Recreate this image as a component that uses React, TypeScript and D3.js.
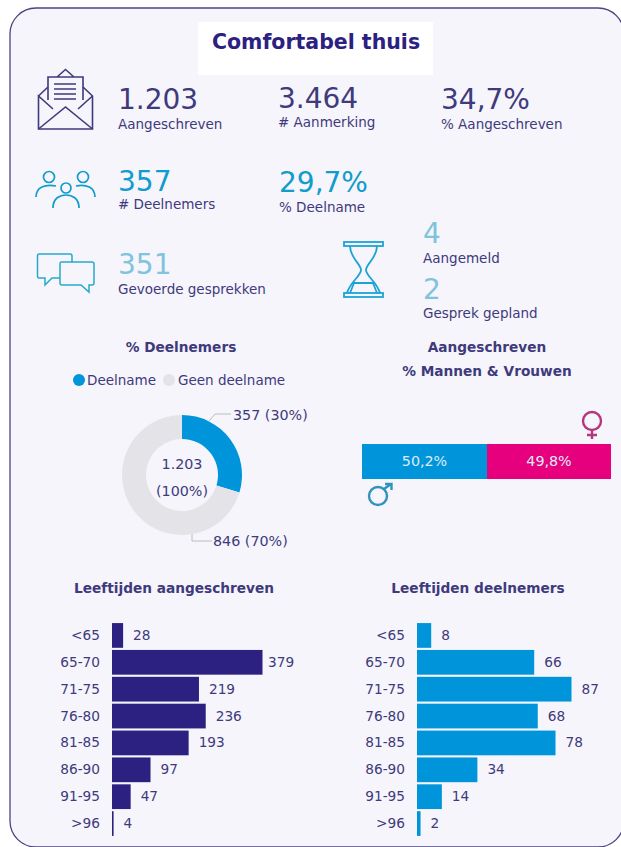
import * as d3 from "d3";

// values
const ageGroups = ["<65", "65-70", "71-75", "76-80", "81-85", "86-90", "91-95", ">96"];
const agesWritten = [28, 379, 219, 236, 193, 97, 47, 4];
const agesJoined = [8, 66, 87, 68, 78, 34, 14, 2];
const donutNames = ["Deelname", "Geen deelname"];
const donutValues = [357, 846];
const genderNames = ["50,2%", "49,8%"];
const genderValues = [50.2, 49.8];

const NAVY = "#2c2181";
const NAVY_TEXT = "#3f3a7c";
const BLUE = "#0095da";
const CYAN = "#119ccb";
const LIGHT = "#7fc3dc";
const GREY = "#e4e4e8";
const PINK = "#e6007e";
const FONT = "'DejaVu Sans', Verdana, sans-serif";

const y = d3.scaleBand().domain(ageGroups).range([622, 837]).paddingInner(0.08).paddingOuter(0.04);

function AgeBars(props: {values: number[]; x0: number; perUnit: number; labelEnd: number; maxLabel: number; color: string}) {
    const x = d3.scaleLinear().domain([0, 1]).range([props.x0, props.x0 + props.perUnit]);
    return (
        <g>
            {ageGroups.map((name, i) => (
                <g key={name}>
                    <text x={props.labelEnd} y={y(name)! + y.bandwidth() / 2 + 4.5} textAnchor="end" fontSize={13.7} fill={NAVY_TEXT}>{name}</text>
                    <rect x={x(0)} y={y(name)} width={x(props.values[i]) - x(0)} height={y.bandwidth()} fill={props.color} />
                    <text x={Math.min(x(props.values[i]) + 10, props.maxLabel)} y={y(name)! + y.bandwidth() / 2 + 4.5} fontSize={13.7} fill={NAVY_TEXT}>{props.values[i]}</text>
                </g>
            ))}
        </g>
    );
}

function Stat(props: {x: number; y: number; value: string; label: string; color: string; labelY: number}) {
    return (
        <g>
            <text x={props.x} y={props.y} fontSize={28} fill={props.color}>{props.value}</text>
            <text x={props.x} y={props.labelY} fontSize={13.5} fill={NAVY_TEXT}>{props.label}</text>
        </g>
    );
}

function Title(props: {x: number; y: number; text: string}) {
    return <text x={props.x} y={props.y} textAnchor="middle" fontSize={13.7} fontWeight="bold" fill={NAVY_TEXT}>{props.text}</text>;
}

export default function App() {
    const pie = d3.pie<number>().sort(null)(donutValues);
    const arc = d3.arc<d3.PieArcDatum<number>>().innerRadius(36).outerRadius(60);
    const gx = d3.scaleLinear().domain([0, 100]).range([362, 611]);
    let running = 0;

    return (
        <svg width={621} height={847} style={{position: "absolute", left: 0, top: 0, fontFamily: FONT}}>
            <rect x={0} y={0} width={621} height={847} fill="#ffffff" />
            <rect x={10} y={8} width={614} height={839} rx={26} fill="#f5f5fb" stroke="#4a4580" strokeWidth={1.3} />
            <rect x={198} y={22} width={235} height={53} fill="#ffffff" />
            <text x={316} y={49} textAnchor="middle" fontSize={20.5} fontWeight="bold" fill={NAVY}>Comfortabel thuis</text>

            {/* envelope */}
            <g fill="none" stroke={NAVY_TEXT} strokeWidth={1.6}>
                <path d="M38.5 96 L48 87 M83 87 L92.5 96 L92.5 129 L38.5 129 L38.5 96 L53 109 M92.5 96 L78 109" />
                <path d="M38.5 129 L65.5 107 L92.5 129" />
                <path d="M48 100 L48 77 L83 77 L83 100 M57 77 L65.5 69.5 L74 77" />
                <path d="M54 84 H76 M54 89 H76 M54 94 H76 M54 99 H76" />
            </g>
            {/* people */}
            <g fill="none" stroke={CYAN} strokeWidth={1.7}>
                <circle cx={49} cy={177} r={5.5} />
                <circle cx={83} cy={177} r={5.5} />
                <circle cx={66} cy={188} r={5} />
                <path d="M36 197 C36 187 45 184 56 186" />
                <path d="M95 197 C95 187 86 184 76 186" />
                <path d="M53 208 C53 198 60 195 66 195 C72 195 79 198 79 208" />
            </g>
            {/* chat */}
            <g fill="none" stroke="#28a9cc" strokeWidth={1.5}>
                <path d="M60 278 H52 L45 285 V278 H39 Q37.5 278 37.5 276 V256 Q37.5 254 39 254 H70 Q72 254 72 256 V262" />
                <path d="M61 262 H92 Q94 262 94 264 V283 Q94 285 92 285 H89 V292 L81 285 H62 Q60 285 60 283 V264 Q60 262 61 262 Z" />
            </g>
            {/* hourglass */}
            <g fill="none" stroke="#1ba3d6" strokeWidth={1.8}>
                <rect x={344} y={242} width={39} height={4} />
                <rect x={344} y={293} width={39} height={4} />
                <path d="M350 246 C350 258 361 264 361 270 C361 276 350 282 347 293 M377 246 C377 258 366 264 366 270 C366 276 377 282 380 293" />
                <path d="M352 283 H375 M350 293 L354 283 M377 293 L373 283" />
            </g>

            <Stat x={118} y={109} labelY={129} value="1.203" label="Aangeschreven" color={NAVY_TEXT} />
            <Stat x={278} y={108} labelY={127} value="3.464" label="# Aanmerking" color={NAVY_TEXT} />
            <Stat x={441} y={109} labelY={129} value="34,7%" label="% Aangeschreven" color={NAVY_TEXT} />
            <Stat x={118} y={191} labelY={209} value="357" label="# Deelnemers" color={CYAN} />
            <Stat x={279} y={192} labelY={212} value="29,7%" label="% Deelname" color={CYAN} />
            <Stat x={118} y={274} labelY={294} value="351" label="Gevoerde gesprekken" color={LIGHT} />
            <Stat x={423} y={243} labelY={263} value="4" label="Aangemeld" color={LIGHT} />
            <Stat x={423} y={299} labelY={318} value="2" label="Gesprek gepland" color={LIGHT} />

            {/* donut */}
            <Title x={181} y={352} text="% Deelnemers" />
            <circle cx={79} cy={380} r={6} fill={BLUE} />
            <text x={87} y={385} fontSize={13.5} fill={NAVY_TEXT}>{donutNames[0]}</text>
            <circle cx={169} cy={380} r={6} fill={GREY} />
            <text x={178} y={385} fontSize={13.5} fill={NAVY_TEXT}>{donutNames[1]}</text>
            <g transform="translate(182,475)">
                {pie.map((d, i) => <path key={i} d={arc(d)!} fill={i === 0 ? BLUE : GREY} />)}
                <text y={-6} textAnchor="middle" fontSize={14.3} fill={NAVY_TEXT}>1.203</text>
                <text y={21} textAnchor="middle" fontSize={14.3} fill={NAVY_TEXT}>(100%)</text>
            </g>
            <path d="M209 421 L215 414 H231" fill="none" stroke="#bbbbc4" />
            <path d="M192 534 V541 H212" fill="none" stroke="#bbbbc4" />
            <text x={233} y={420} fontSize={14.3} fill={NAVY_TEXT}>{donutValues[0]} (30%)</text>
            <text x={213} y={546} fontSize={14.3} fill={NAVY_TEXT}>{donutValues[1]} (70%)</text>

            {/* men and women */}
            <Title x={487} y={352} text="Aangeschreven" />
            <Title x={487} y={376} text="% Mannen & Vrouwen" />
            {genderValues.map((v, i) => {
                const start = running;
                running += v;
                return (
                    <g key={i}>
                        <rect x={gx(start)} y={444} width={gx(start + v) - gx(start)} height={35} fill={i === 0 ? BLUE : PINK} />
                        <text x={(gx(start) + gx(start + v)) / 2} y={466} textAnchor="middle" fontSize={14.3} fill="#dcebf7">{genderNames[i]}</text>
                    </g>
                );
            })}
            <g fill="none" stroke="#b5367f" strokeWidth={2.4}>
                <circle cx={592} cy={421} r={9} />
                <path d="M592 430 V439 M587 435 H597" />
            </g>
            <g fill="none" stroke="#2f93bd" strokeWidth={2.4}>
                <circle cx={378} cy={496} r={9} />
                <path d="M384 489 L391 484 M385 484 H391.5 V490" />
            </g>

            {/* ages */}
            <Title x={174} y={593} text="Leeftijden aangeschreven" />
            <Title x={478} y={593} text="Leeftijden deelnemers" />
            <AgeBars values={agesWritten} x0={112} perUnit={150.5 / 379} labelEnd={100} maxLabel={268} color={NAVY} />
            <AgeBars values={agesJoined} x0={417} perUnit={154.5 / 87} labelEnd={405} maxLabel={621} color={BLUE} />
        </svg>
    );
}
